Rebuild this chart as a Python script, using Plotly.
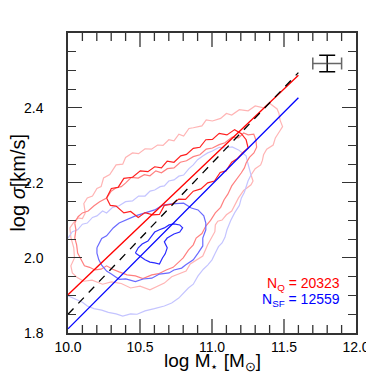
import plotly.graph_objects as go

# contour lines (log M*, log sigma)
q_outer_x = [10.120, 10.110, 10.134, 10.170, 10.201, 10.230, 10.247, 10.290, 10.334, 10.380, 10.400, 10.448,
             10.490, 10.535, 10.580, 10.622, 10.660, 10.700, 10.736, 10.770, 10.803, 10.840, 10.870, 10.930,
             10.960, 11.003, 11.060, 11.100, 11.137, 11.190, 11.251, 11.300, 11.358, 11.400, 11.452, 11.465,
             11.472, 11.490, 11.472, 11.440, 11.425, 11.380, 11.358, 11.350, 11.338, 11.300, 11.271, 11.285,
             11.271, 11.220, 11.184, 11.160, 11.137, 11.100, 11.070, 11.040, 11.023, 11.020, 11.003, 10.970,
             10.936, 10.890, 10.849, 10.820, 10.783, 10.720, 10.669, 10.620, 10.569, 10.500, 10.435, 10.370,
             10.301, 10.240, 10.167, 10.110, 10.067, 10.030, 10.020, 10.045, 10.040, 10.020, 10.013, 10.040,
             10.067, 10.100]
q_outer_y = [2.120, 2.145, 2.160, 2.165, 2.185, 2.190, 2.213, 2.222, 2.248, 2.250, 2.268, 2.280,
             2.278, 2.291, 2.290, 2.301, 2.300, 2.315, 2.312, 2.330, 2.325, 2.345, 2.347, 2.352,
             2.368, 2.365, 2.372, 2.385, 2.381, 2.395, 2.392, 2.405, 2.400, 2.412, 2.397, 2.385,
             2.368, 2.350, 2.339, 2.320, 2.301, 2.290, 2.275, 2.260, 2.248, 2.238, 2.221, 2.205,
             2.195, 2.180, 2.160, 2.140, 2.125, 2.115, 2.101, 2.098, 2.088, 2.070, 2.059, 2.035,
             2.005, 1.995, 1.984, 1.965, 1.960, 1.950, 1.933, 1.925, 1.915, 1.925, 1.920, 1.932,
             1.936, 1.930, 1.941, 1.938, 1.947, 1.960, 1.979, 2.000, 2.027, 2.055, 2.080, 2.095,
             2.107, 2.105]

q_mid_x = [10.047, 10.070, 10.100, 10.140, 10.181, 10.220, 10.268, 10.300, 10.334, 10.370, 10.401, 10.440,
           10.488, 10.530, 10.569, 10.610, 10.649, 10.690, 10.736, 10.780, 10.823, 10.870, 10.916, 10.960,
           11.003, 11.050, 11.090, 11.140, 11.184, 11.220, 11.251, 11.290, 11.304, 11.310, 11.291, 11.260,
           11.237, 11.225, 11.204, 11.170, 11.137, 11.110, 11.084, 11.060, 11.023, 10.990, 10.957, 10.930,
           10.890, 10.870, 10.836, 10.800, 10.769, 10.730, 10.682, 10.630, 10.582, 10.520, 10.468, 10.410,
           10.355, 10.310, 10.268, 10.230, 10.187, 10.150, 10.114, 10.090, 10.067, 10.060, 10.047, 10.055]
q_mid_y = [2.093, 2.110, 2.120, 2.125, 2.139, 2.150, 2.160, 2.178, 2.187, 2.190, 2.200, 2.215,
           2.213, 2.222, 2.219, 2.232, 2.227, 2.238, 2.240, 2.255, 2.259, 2.270, 2.275, 2.290,
           2.293, 2.302, 2.307, 2.322, 2.320, 2.333, 2.328, 2.330, 2.315, 2.295, 2.280, 2.268,
           2.253, 2.240, 2.227, 2.210, 2.192, 2.170, 2.155, 2.135, 2.120, 2.100, 2.085, 2.065,
           2.053, 2.035, 2.021, 2.000, 1.989, 1.975, 1.968, 1.958, 1.955, 1.945, 1.952, 1.955,
           1.963, 1.970, 1.979, 1.970, 1.968, 1.975, 1.979, 1.995, 2.013, 2.035, 2.053, 2.075]

q_in_x = [10.268, 10.301, 10.348, 10.388, 10.448, 10.502, 10.555, 10.602, 10.649, 10.689, 10.736, 10.783,
          10.823, 10.870, 10.916, 10.957, 11.003, 11.050, 11.104, 11.157, 11.204, 11.237, 11.251, 11.217,
          11.177, 11.137, 11.097, 11.057, 11.017, 10.970, 10.923, 10.870, 10.816, 10.769, 10.722, 10.669,
          10.635, 10.589, 10.535, 10.488, 10.435, 10.388, 10.334, 10.294]
q_in_y = [2.160, 2.185, 2.188, 2.212, 2.215, 2.232, 2.230, 2.243, 2.240, 2.258, 2.255, 2.272,
          2.276, 2.292, 2.295, 2.315, 2.316, 2.332, 2.328, 2.342, 2.331, 2.315, 2.293, 2.282,
          2.265, 2.255, 2.232, 2.228, 2.205, 2.200, 2.184, 2.178, 2.156, 2.157, 2.143, 2.140,
          2.116, 2.115, 2.121, 2.108, 2.124, 2.120, 2.138, 2.140]

sf_outer_x = [10.000, 10.030, 10.067, 10.100, 10.134, 10.170, 10.201, 10.240, 10.268, 10.310, 10.355, 10.400,
              10.448, 10.490, 10.535, 10.570, 10.602, 10.640, 10.669, 10.700, 10.736, 10.770, 10.803, 10.840,
              10.870, 10.900, 10.936, 10.970, 11.003, 11.050, 11.090, 11.140, 11.184, 11.215, 11.237, 11.245,
              11.251, 11.262, 11.271, 11.250, 11.237, 11.225, 11.204, 11.190, 11.157, 11.130, 11.104, 11.090,
              11.070, 11.045, 11.023, 11.000, 10.970, 10.940, 10.903, 10.870, 10.836, 10.800, 10.769, 10.720,
              10.669, 10.600, 10.535, 10.480, 10.435, 10.380, 10.334, 10.280, 10.234, 10.180, 10.134, 10.100,
              10.067, 10.030, 10.000]
sf_outer_y = [2.053, 2.070, 2.075, 2.090, 2.093, 2.108, 2.112, 2.125, 2.120, 2.135, 2.139, 2.150,
              2.152, 2.165, 2.165, 2.178, 2.181, 2.190, 2.192, 2.205, 2.208, 2.218, 2.221, 2.238,
              2.248, 2.262, 2.272, 2.280, 2.285, 2.295, 2.293, 2.296, 2.288, 2.280, 2.272, 2.258,
              2.248, 2.235, 2.221, 2.205, 2.192, 2.175, 2.160, 2.140, 2.120, 2.100, 2.075, 2.055,
              2.040, 2.030, 2.013, 1.995, 1.981, 1.970, 1.952, 1.930, 1.920, 1.905, 1.893, 1.880,
              1.872, 1.865, 1.859, 1.850, 1.851, 1.845, 1.851, 1.855, 1.861, 1.865, 1.872, 1.882,
              1.888, 1.893, 1.899]

sf_mid_x = [10.201, 10.234, 10.268, 10.314, 10.355, 10.415, 10.468, 10.535, 10.602, 10.656, 10.716, 10.803,
            10.856, 10.903, 10.943, 10.957, 10.957, 10.936, 10.936, 10.903, 10.870, 10.816, 10.789, 10.736,
            10.702, 10.635, 10.582, 10.522, 10.468, 10.401, 10.355, 10.301, 10.268, 10.234, 10.214, 10.201]
sf_mid_y = [2.027, 2.052, 2.059, 2.080, 2.093, 2.104, 2.112, 2.120, 2.128, 2.140, 2.144, 2.146,
            2.133, 2.128, 2.112, 2.093, 2.075, 2.053, 2.032, 2.013, 1.995, 1.981, 1.973, 1.968,
            1.960, 1.957, 1.946, 1.944, 1.937, 1.944, 1.943, 1.957, 1.965, 1.981, 1.995, 2.013]

sf_in_x = [10.468, 10.488, 10.515, 10.555, 10.582, 10.602, 10.635, 10.669, 10.702, 10.736, 10.776, 10.796,
           10.776, 10.736, 10.689, 10.669, 10.689, 10.675, 10.656, 10.635, 10.602, 10.569, 10.535, 10.502]
sf_in_y = [2.013, 2.027, 2.037, 2.045, 2.059, 2.069, 2.075, 2.080, 2.088, 2.091, 2.088, 2.080,
           2.069, 2.064, 2.053, 2.043, 2.027, 2.011, 2.000, 1.984, 1.987, 1.989, 1.995, 2.003]

# fitted relations
fit_x = [10.0, 11.6]
q_fit_y = [1.902, 2.487]
sf_fit_y = [1.811, 2.427]
all_fit_y = [1.850, 2.494]

err_x, err_y = [11.8], [2.518]
err_dx, err_dy = [0.1], [0.022]

n_q, n_sf = 20323, 12559

FONT = "Liberation Sans, Arial, sans-serif"
AXIS = "#333333"
PLOT_H = 300  # px height of the plotting area


def closed(xs, ys):
    return xs + xs[:1], ys + ys[:1]


fig = go.Figure()

contours = [
    (q_outer_x, q_outer_y, "#ffb4b4", True),
    (sf_outer_x, sf_outer_y, "#c4c4ff", False),
    (q_mid_x, q_mid_y, "#ff8080", True),
    (sf_mid_x, sf_mid_y, "#6a6aff", True),
    (q_in_x, q_in_y, "#ff2020", True),
    (sf_in_x, sf_in_y, "#2a2aff", True),
]
for xs, ys, color, loop in contours:
    if loop:
        xs, ys = closed(xs, ys)
    fig.add_trace(go.Scatter(x=xs, y=ys, mode="lines", line=dict(color=color, width=1.2),
                             hoverinfo="skip", showlegend=False))

fig.add_trace(go.Scatter(x=fit_x, y=q_fit_y, mode="lines", line=dict(color="#ff0000", width=1.3), showlegend=False))
fig.add_trace(go.Scatter(x=fit_x, y=sf_fit_y, mode="lines", line=dict(color="#0000ff", width=1.3), showlegend=False))
fig.add_trace(go.Scatter(x=fit_x, y=all_fit_y, mode="lines",
                         line=dict(color="black", width=1.3, dash="8px,7px"), showlegend=False))

fig.add_trace(go.Scatter(
    x=err_x, y=err_y, mode="markers", marker=dict(size=1, color="black"), showlegend=False,
    error_x=dict(type="data", array=err_dx, color="#666666", thickness=1.5, width=6),
    error_y=dict(type="data", array=err_dy, color="black", thickness=1.5, width=8),
))

fig.add_annotation(x=11.9, y=1.93, xref="x", yref="y", xanchor="right", showarrow=False,
                   text=f"N<sub>Q</sub> = {n_q}", font=dict(color="#ff0000", size=14, family=FONT))
fig.add_annotation(x=11.9, y=1.888, xref="x", yref="y", xanchor="right", showarrow=False,
                   text=f"N<sub>SF</sub> = {n_sf}", font=dict(color="#0000ff", size=14, family=FONT))

# axis titles placed by hand
fig.add_annotation(x=0.5, y=-0.095, xref="paper", yref="paper", yanchor="middle", showarrow=False,
                   text="log M<sub>⋆</sub> [M<sub>⊙</sub>]", font=dict(size=19, family=FONT, color="black"))
fig.add_annotation(x=-0.175, y=0.5, xref="paper", yref="paper", xanchor="center", showarrow=False,
                   textangle=-90, text="log <i>σ</i>[km/s]", font=dict(size=20, family=FONT, color="black"))

# x ticks (every 0.1, long ones every 0.5) on bottom and top edges
for i in range(1, 20):
    v = round(10.0 + 0.1 * i, 1)
    frac = (14 if i % 5 == 0 else 8) / PLOT_H
    for y0, y1 in ((0, frac), (1 - frac, 1)):
        fig.add_shape(type="line", xref="x", yref="paper", x0=v, x1=v, y0=y0, y1=y1,
                      line=dict(color=AXIS, width=1.3))

fig.update_layout(
    width=374, height=374, paper_bgcolor="white", plot_bgcolor="white",
    margin=dict(l=60, r=15, t=25, b=49),
    xaxis=dict(range=[10.0, 12.0], tick0=10.0, dtick=0.5, tickformat=".1f", ticks="",
               showgrid=False, zeroline=False, showline=True, linecolor=AXIS, linewidth=1.5, mirror=True,
               tickfont=dict(size=14, family=FONT, color="black")),
    yaxis=dict(range=[1.8, 2.5995], tick0=1.8, dtick=0.2, tickformat=".1f", ticklabelstandoff=20,
               showgrid=False, zeroline=False, showline=True, linecolor=AXIS, linewidth=1.5,
               mirror="allticks", ticks="inside", ticklen=14, tickwidth=1.3, tickcolor=AXIS,
               tickfont=dict(size=14, family=FONT, color="black"),
               minor=dict(dtick=0.05, ticklen=8, ticks="inside", tickcolor=AXIS, tickwidth=1.3)),
)

fig.write_html("out.html")
